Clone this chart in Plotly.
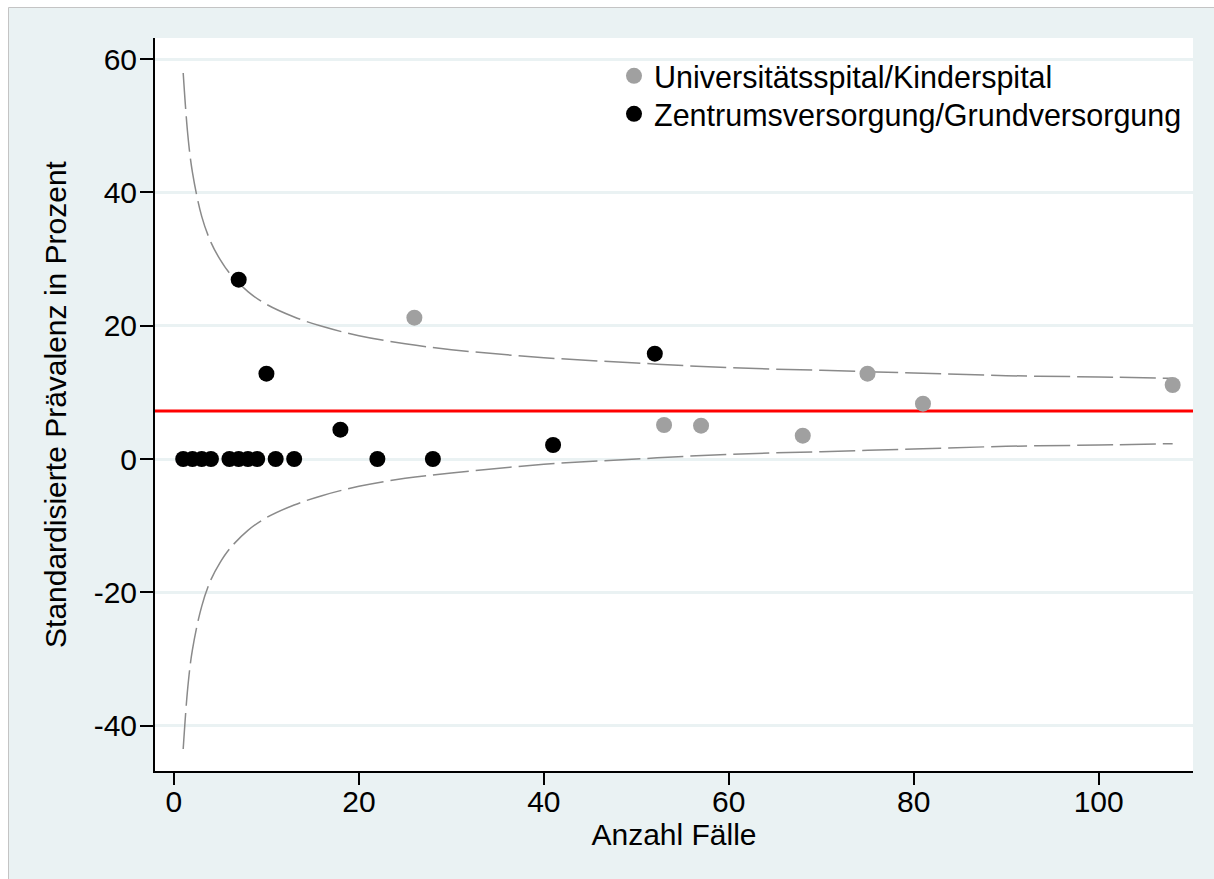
import plotly.graph_objects as go

# ---- data ----
uni_n = [26, 53, 57, 68, 75, 81, 108]
uni_prev = [21.2, 5.1, 5.0, 3.5, 12.8, 8.3, 11.1]

zen_n = [1, 2, 3, 4, 6, 7, 8, 9, 11, 13, 7, 10, 18, 22, 28, 41, 52]
zen_prev = [0, 0, 0, 0, 0, 0, 0, 0, 0, 0, 26.9, 12.8, 4.4, 0, 0, 2.1, 15.8]

limit_n = [1, 1.5, 2, 3, 4, 5, 6, 8, 10, 13, 16, 20, 25, 30, 40, 50, 60, 70, 80, 90, 100, 108]
upper_limit = [57.9, 48.6, 43.0, 36.4, 32.5, 29.9, 27.9, 25.1, 23.2, 21.3, 19.9, 18.5,
               17.3, 16.4, 15.2, 14.4, 13.7, 13.3, 12.9, 12.5, 12.3, 12.1]
lower_limit = [-43.5, -34.2, -28.6, -22.1, -18.1, -15.5, -13.5, -10.7, -8.8, -6.9, -5.5, -4.1,
               -2.9, -2.1, -0.8, 0.0, 0.7, 1.1, 1.5, 1.9, 2.1, 2.3]

mean_prev = 7.2

y_ticks = [-40, -20, 0, 20, 40, 60]
y_ticktext = ["-40", "-20", "0", "20", "40", "60"]
x_ticks = [0, 20, 40, 60, 80, 100]

# ---- style ----
FONT = "Liberation Sans, Arial, sans-serif"
BG = "#eaf2f3"
W, H = 1214, 879
ML, MR, MT, MB = 155, 21, 38, 108
PW, PH = W - ML - MR, H - MT - MB


def px_x(p):
    return (p - ML) / PW


def px_y(p):
    return (H - MB - p) / PH


fig = go.Figure()

dash_style = dict(color="#8a8a8a", width=1.5, dash="36px,7px", shape="spline")
fig.add_trace(go.Scatter(x=limit_n, y=upper_limit, mode="lines", line=dash_style,
                         showlegend=False, hoverinfo="skip"))
fig.add_trace(go.Scatter(x=limit_n, y=lower_limit, mode="lines", line=dash_style,
                         showlegend=False, hoverinfo="skip"))

fig.add_trace(go.Scatter(x=uni_n, y=uni_prev, mode="markers",
                         name="Universitätsspital/Kinderspital", legend="legend",
                         marker=dict(color="#a0a0a0", size=16, line=dict(width=0))))
fig.add_trace(go.Scatter(x=zen_n, y=zen_prev, mode="markers",
                         name="Zentrumsversorgung/Grundversorgung", legend="legend2",
                         marker=dict(color="#000000", size=16, line=dict(width=0))))

shapes = [
    # mean line
    dict(type="line", xref="paper", yref="y", x0=0, x1=1, y0=mean_prev, y1=mean_prev,
         line=dict(color="#ff0000", width=3), layer="below"),
    # white outer margins + thin border (top / left)
    dict(type="rect", xref="paper", yref="paper", x0=px_x(0), x1=px_x(8.5),
         y0=px_y(H), y1=px_y(0), fillcolor="white", line=dict(width=0), layer="below"),
    dict(type="rect", xref="paper", yref="paper", x0=px_x(0), x1=px_x(W),
         y0=px_y(7.5), y1=px_y(0), fillcolor="white", line=dict(width=0), layer="below"),
    dict(type="line", xref="paper", yref="paper", x0=px_x(8.5), x1=px_x(8.5),
         y0=px_y(H), y1=px_y(7.5), line=dict(color="#c4c4c4", width=1), layer="below"),
    dict(type="line", xref="paper", yref="paper", x0=px_x(8.5), x1=px_x(W),
         y0=px_y(7.5), y1=px_y(7.5), line=dict(color="#c4c4c4", width=1), layer="below"),
]

legend_common = dict(xanchor="left", yanchor="middle", bgcolor="rgba(0,0,0,0)",
                     font=dict(size=30.5), itemsizing="trace")

fig.update_layout(
    width=W, height=H,
    margin=dict(l=ML, r=MR, t=MT, b=MB, autoexpand=False),
    paper_bgcolor=BG, plot_bgcolor="white",
    font=dict(family=FONT, size=30, color="black"),
    shapes=shapes,
    showlegend=True,
    legend=dict(x=px_x(614), y=px_y(76), **legend_common),
    legend2=dict(x=px_x(614), y=px_y(114), **legend_common),
    xaxis=dict(range=[-2.05, 110.2], tickvals=x_ticks, showgrid=False, zeroline=False,
               showline=True, linecolor="black", linewidth=2,
               ticks="outside", ticklen=12, tickwidth=1.5, tickcolor="black",
               tickfont=dict(size=30), ticklabelstandoff=-9,
               title=dict(text="Anzahl Fälle", font=dict(size=30), standoff=0)),
    yaxis=dict(range=[-46.8, 63.15], tickvals=y_ticks, ticktext=y_ticktext,
               showgrid=True, gridcolor=BG, gridwidth=3, zeroline=False,
               showline=True, linecolor="black", linewidth=2,
               ticks="outside", ticklen=13, tickwidth=1.5, tickcolor="black",
               tickfont=dict(size=30), ticklabelstandoff=-3,
               title=dict(text="Standardisierte Prävalenz in Prozent", font=dict(size=30),
                          standoff=18)),
)

fig.write_html("out.html")
